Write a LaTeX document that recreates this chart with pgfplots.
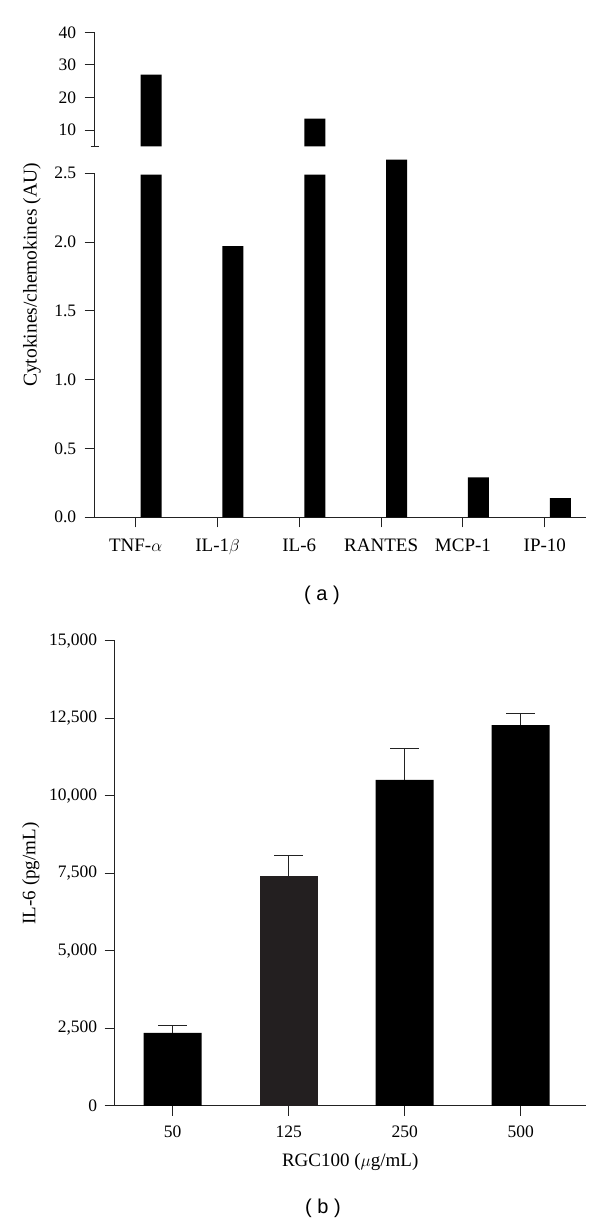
\documentclass[border=0pt]{standalone}
\usepackage{fontspec}
\setmainfont{Liberation Serif}
\newfontfamily\labfont{Liberation Sans}
\usepackage{pgfplots}
\pgfplotsset{compat=1.18}
\definecolor{axgray}{HTML}{222222}
\definecolor{bargray}{HTML}{231F20}

\begin{document}
\begin{tikzpicture}
\useasboundingbox (0pt,0pt) rectangle (600pt,1222pt);
\pgfplotsset{
 common/.style={
  scale only axis,
  axis line style={-, line width=1pt, axgray},
  major tick style={line width=1pt, axgray},
  major tick length=10pt,
  tick align=outside,
  /pgf/number format/assume math mode=true,
  tick label style={font=\fontsize{17.5}{20}\selectfont},
  label style={font=\fontsize{19}{22}\selectfont},
 }
}
% ---------- panel (a), lower part ----------
\begin{axis}[common, at={(94.7pt,704.7pt)}, anchor=south west, width=491pt, height=344pt,
 xmin=-0.5, xmax=5.5, ymin=0, ymax=2.5,
 axis x line*=bottom, axis y line*=left,
 xtick={0,1,2,3,4,5},
 xticklabels={TNF-$\alpha$, IL-1$\beta$, IL-6, RANTES, MCP-1, IP-10},
 x tick label style={font=\fontsize{19}{22}\selectfont, yshift=-8pt},
 ytick={0,0.5,1,1.5,2,2.5},
 y tick label style={xshift=-5pt, /pgf/number format/.cd, fixed, fixed zerofill, precision=1},
 ybar, bar width=21pt, bar shift=15.5pt, clip=false]
\addplot[fill=black, draw=none] coordinates {(0,2.49) (1,1.97) (2,2.49) (3,2.6) (4,0.29) (5,0.14)};
\end{axis}
% ---------- panel (a), upper part ----------
\begin{axis}[common, at={(94.7pt,1075.5pt)}, anchor=south west, width=491pt, height=114.2pt,
 xmin=-0.5, xmax=5.5, ymin=5, ymax=40,
 axis x line=none, axis y line*=left,
 ytick={10,20,30,40},
 y tick label style={xshift=-5pt},
 extra y ticks={5}, extra y tick labels={},
 extra y tick style={major tick length=8pt, tick align=center},
 ybar, bar width=21pt, bar shift=15.5pt]
\addplot[fill=black, draw=none] coordinates {(0,27) (2,13.5)};
\end{axis}
\node[rotate=90, font=\fontsize{19.5}{22}\selectfont] at (32pt,947pt) {Cytokines/chemokines (AU)};
\node[font=\labfont\fontsize{20}{22}\selectfont] at (322pt,627pt) {( a )};
% ---------- panel (b) ----------
\begin{axis}[common, at={(114.7pt,116pt)}, anchor=south west, width=471pt, height=465pt,
 xmin=-0.5, xmax=3.56, ymin=0, ymax=15000,
 axis x line*=bottom, axis y line*=left,
 xtick={0,1,2,3}, xticklabels={50,125,250,500},
 x tick label style={yshift=-6pt},
 ytick={0,2500,5000,7500,10000,12500,15000}, scaled y ticks=false,
 y tick label style={xshift=-4pt, /pgf/number format/.cd, 1000 sep={,}},
 xlabel={RGC100 ($\mu$g/mL)}, ylabel={IL-6 (pg/mL)},
 xlabel style={at={(axis description cs:0.5,-0.1204)}, anchor=center},
 ylabel style={at={(axis description cs:-0.178,0.5)}, anchor=center},
 ybar, bar width=58pt, bar shift=0pt,
 error bars/y dir=plus, error bars/y explicit,
 error bars/error bar style={line width=1pt, axgray},
 error bars/error mark options={rotate=90, mark size=14.5pt, line width=1pt, axgray}]
\addplot[fill=black, draw=none] coordinates {(0,2355) +- (0,235) (2,10517) +- (0,1000) (3,12290) +- (0,366)};
\addplot[fill=bargray, draw=none] coordinates {(1,7420) +- (0,668)};
\end{axis}
\node[font=\labfont\fontsize{20}{22}\selectfont] at (323pt,14pt) {( b )};
\end{tikzpicture}
\end{document}
